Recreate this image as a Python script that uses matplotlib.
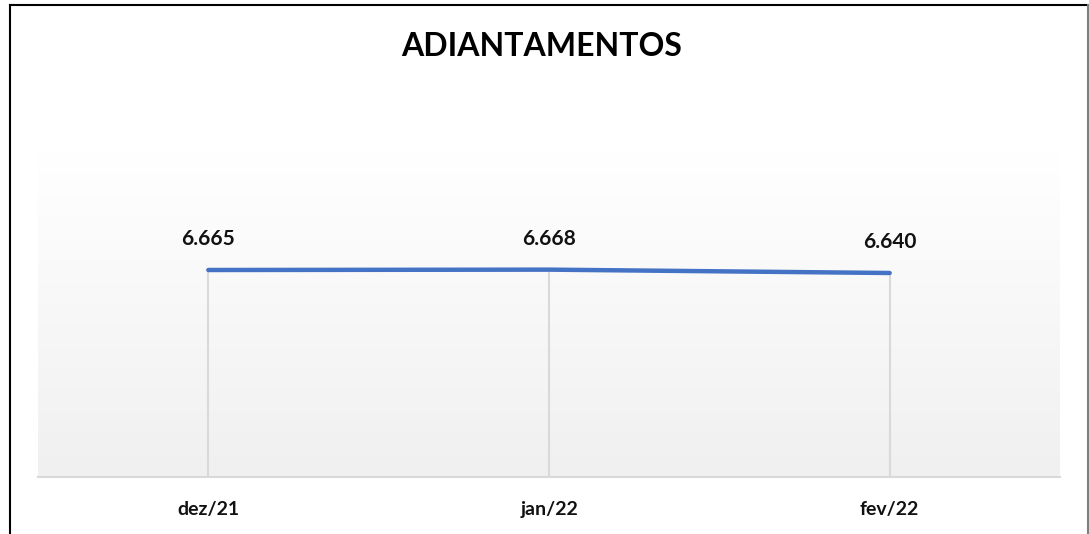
import numpy as np
import matplotlib
matplotlib.use("Agg")
from matplotlib import pyplot as plt
from matplotlib.lines import Line2D

# data
months = ["dez/21", "jan/22", "fev/22"]
values = [6665, 6668, 6640]
labels = ["6.665", "6.668", "6.640"]

line_color = "#4472C4"
grid_color = "#d9d9d9"
font = "Lato"

fig = plt.figure(figsize=(10.89, 5.34), dpi=100)
fig.patch.set_facecolor("white")

ax = fig.add_axes([38 / 1089, 1 - 477 / 534, (1060 - 38) / 1089, (477 - 153) / 534])

x = np.arange(len(months))
ax.set_xlim(-0.5, len(months) - 0.5)
ax.set_ylim(4940, 7640)

# gradient background, white on top to light gray at bottom
grad = np.linspace(1.0, 0.0, 256).reshape(-1, 1)
ax.imshow(grad, extent=[0, 1, 0, 1], transform=ax.transAxes, aspect="auto",
          cmap=matplotlib.colors.LinearSegmentedColormap.from_list("g", ["#f0f0f0", "#ffffff"]),
          vmin=0, vmax=1, zorder=0)

# drop lines
for xi, v in zip(x, values):
    ax.plot([xi, xi], [ax.get_ylim()[0], v], color=grid_color, lw=1.5, zorder=1)

ax.plot(x, values, color=line_color, lw=3.2, solid_capstyle="round", zorder=3)

for xi, v, lab in zip(x, values, labels):
    ax.annotate(lab, (xi, v), xytext=(0, 22), textcoords="offset points",
                ha="center", va="center", fontsize=15, fontweight="bold",
                family=font, color="#111111")

ax.set_xticks(x)
ax.set_xticklabels(months, fontsize=14, fontweight="bold", family=font, color="#111111")
ax.tick_params(axis="x", length=0, pad=17)
ax.set_yticks([])
for s in ["top", "left", "right"]:
    ax.spines[s].set_visible(False)
ax.spines["bottom"].set_color(grid_color)
ax.spines["bottom"].set_linewidth(1.5)

fig.text(542 / 1089, 1 - 46 / 534, "ADIANTAMENTOS", ha="center", va="center",
         fontsize=23, fontweight="bold", family=font, color="black")

# outer frame
fig.add_artist(Line2D([9.5 / 1089, 9.5 / 1089], [0, 1 - 5 / 534], color="black", lw=1.5))
fig.add_artist(Line2D([9.5 / 1089, 1087.5 / 1089], [1 - 5 / 534, 1 - 5 / 534], color="black", lw=1.5))
fig.add_artist(Line2D([1087.5 / 1089, 1087.5 / 1089], [0, 1 - 5 / 534], color="#7f7f7f", lw=1.5))

fig.savefig("out.png", dpi=100)
